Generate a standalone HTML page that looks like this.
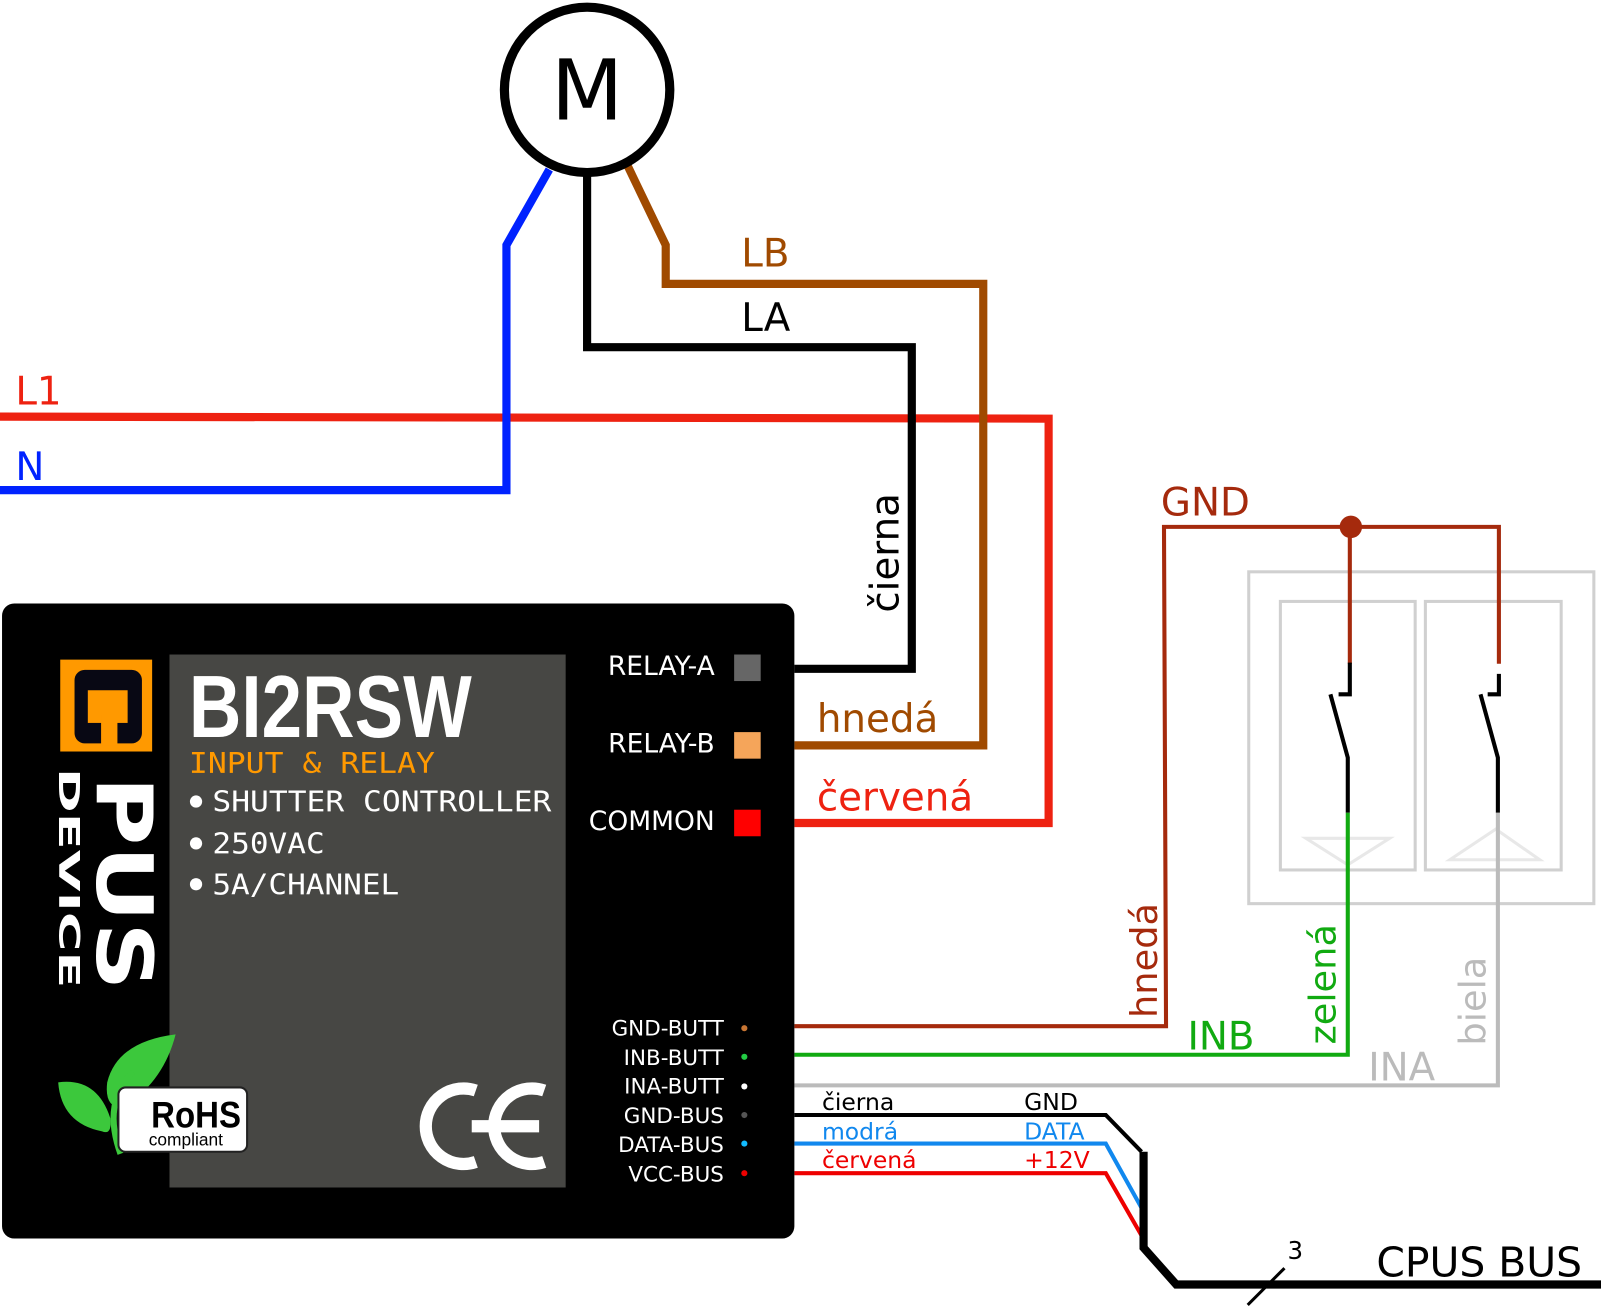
<!DOCTYPE html>
<html><head><meta charset="utf-8"><style>html,body{margin:0;padding:0;background:#fff}svg{display:block}</style></head>
<body>
<svg width="1601" height="1308" viewBox="0 0 1568 1281" xmlns="http://www.w3.org/2000/svg" font-family="'DejaVu Sans', 'Liberation Sans', sans-serif">
<polyline points="0,408 1027,410 1027,806 778,806" fill="none" stroke="#ee2211" stroke-width="8"/>
<polyline points="538,166 496,240 496,480 0,480" fill="none" stroke="#0022ff" stroke-width="8"/>
<polyline points="575,170 575,340 893,340 893,655 778,655" fill="none" stroke="#000" stroke-width="8"/>
<polyline points="615,163 652,240 652,278 963,278 963,730 778,730" fill="none" stroke="#a04a00" stroke-width="8"/>
<circle cx="575" cy="88" r="81" fill="#fff" stroke="#000" stroke-width="9"/>
<text x="575" y="117" font-size="82" text-anchor="middle">M</text>
<text x="15" y="396" font-size="38" fill="#ee2211">L1</text>
<text x="15" y="470" font-size="38" fill="#0022ff">N</text>
<text x="726" y="261" font-size="38" fill="#a04a00">LB</text>
<text x="726" y="324" font-size="38" fill="#000">LA</text>
<text transform="translate(880,600) rotate(-90)" font-size="38" fill="#000">čierna</text>
<text x="800" y="717" font-size="38" fill="#a04a00">hnedá</text>
<text x="800" y="794" font-size="38" fill="#ee2211">červená</text>

<rect x="1223" y="560" width="338" height="325" fill="none" stroke="#d0d0d0" stroke-width="3"/>
<rect x="1254" y="589" width="132" height="263" fill="none" stroke="#d0d0d0" stroke-width="3"/>
<rect x="1396" y="589" width="133" height="263" fill="none" stroke="#d0d0d0" stroke-width="3"/>
<polygon points="1279,821 1361,821 1320,847" fill="none" stroke="#e8e8e8" stroke-width="3"/>
<polygon points="1420,842 1508,842 1465,812" fill="none" stroke="#e8e8e8" stroke-width="3"/>

<polyline points="778,1005 1142,1005 1140,516 1468,516 1468,650" fill="none" stroke="#a52a0d" stroke-width="4"/>
<line x1="1322" y1="516" x2="1322" y2="650" stroke="#a52a0d" stroke-width="4"/>
<circle cx="1323" cy="516" r="11" fill="#a52a0d"/>
<path d="M1322,649 V680 H1311 M1303,680 L1320,742 V796 M1468,660 V680 H1457 M1450,680 L1467,742 V796" fill="none" stroke="#000" stroke-width="4"/>
<polyline points="778,1033 1320,1033 1320,796" fill="none" stroke="#11aa11" stroke-width="4"/>
<polyline points="778,1063 1467,1063 1467,796" fill="none" stroke="#bbbbbb" stroke-width="4"/>
<text x="1137" y="505" font-size="38" fill="#a52a0d">GND</text>
<text transform="translate(1133,997) rotate(-90)" font-size="36" fill="#a52a0d">hnedá</text>
<text transform="translate(1308,1023) rotate(-90)" font-size="36" fill="#11aa11">zelená</text>
<text transform="translate(1455,1024) rotate(-90)" font-size="36" fill="#bbbbbb">biela</text>
<text x="1163" y="1028" font-size="38" fill="#11aa11">INB</text>
<text x="1340" y="1058" font-size="38" fill="#bbbbbb">INA</text>

<polyline points="778,1149 1083,1149 1118,1210" fill="none" stroke="#ee0000" stroke-width="4"/>
<polyline points="778,1120 1083,1120 1118,1183" fill="none" stroke="#1188ee" stroke-width="4"/>
<polyline points="778,1092 1083,1092 1118,1128" fill="none" stroke="#000" stroke-width="4"/>
<polyline points="1120,1128 1120,1222 1152,1258 1568,1258" fill="none" stroke="#000" stroke-width="8"/>
<line x1="1222" y1="1278" x2="1258" y2="1242" stroke="#000" stroke-width="3"/>
<text x="1261" y="1233" font-size="24">3</text>
<text x="1348" y="1250" font-size="40">CPUS BUS</text>
<g font-size="23">
<text x="805" y="1087" fill="#000">čierna</text><text x="1003" y="1087" fill="#000">GND</text>
<text x="805" y="1116" fill="#1188ee">modrá</text><text x="1003" y="1116" fill="#1188ee">DATA</text>
<text x="805" y="1144" fill="#ee0000">červená</text><text x="1003" y="1144" fill="#ee0000">+12V</text>
</g>

<rect x="2" y="591" width="776" height="622" rx="12" fill="#000"/>
<rect x="166" y="641" width="388" height="522" fill="#474744"/>
<rect x="59" y="646" width="90" height="90" fill="#ff9900"/>
<rect x="73" y="656" width="66" height="72" rx="10" fill="#080814"/>
<rect x="86" y="676" width="39" height="32" fill="#ff9900"/>
<rect x="99" y="700" width="16" height="30" fill="#ff9900"/>
<text transform="translate(95,760) rotate(90)" font-size="76" font-weight="bold" fill="#fff" font-family="'DejaVu Sans',sans-serif" textLength="210" lengthAdjust="spacingAndGlyphs">PUS</text>
<text transform="translate(58,752) rotate(90)" font-size="28" font-weight="bold" fill="#fff" textLength="216" lengthAdjust="spacingAndGlyphs">DEVICE</text>
<text x="185" y="722" font-size="86" font-weight="bold" fill="#fff" font-family="'Liberation Sans Narrow','Liberation Sans',sans-serif" textLength="277" lengthAdjust="spacingAndGlyphs">BI2RSW</text>
<text x="185" y="757" font-size="28" fill="#ff9900" font-family="'DejaVu Sans Mono',monospace" textLength="241" lengthAdjust="spacingAndGlyphs">INPUT &amp; RELAY</text>
<g fill="#fff" font-size="28" font-family="'DejaVu Sans Mono',monospace">
<circle cx="192" cy="785" r="6"/><text x="208" y="795" textLength="332" lengthAdjust="spacingAndGlyphs">SHUTTER CONTROLLER</text>
<circle cx="192" cy="826" r="6"/><text x="208" y="836" textLength="110" lengthAdjust="spacingAndGlyphs">250VAC</text>
<circle cx="192" cy="866" r="6"/><text x="208" y="876" textLength="183" lengthAdjust="spacingAndGlyphs">5A/CHANNEL</text>
</g>
<g fill="#fff" font-size="26" text-anchor="end">
<text x="700" y="661">RELAY-A</text><text x="700" y="737">RELAY-B</text><text x="700" y="813">COMMON</text>
</g>
<rect x="719" y="641" width="26" height="26" fill="#666"/>
<rect x="719" y="717" width="26" height="26" fill="#f5a55a"/>
<rect x="719" y="793" width="26" height="26" fill="#ff0000"/>
<g fill="#fff" font-size="21" text-anchor="end">
<text x="709" y="1014">GND-BUTT</text><text x="709" y="1043">INB-BUTT</text><text x="709" y="1071">INA-BUTT</text>
<text x="709" y="1100">GND-BUS</text><text x="709" y="1128">DATA-BUS</text><text x="709" y="1157">VCC-BUS</text>
</g>
<circle cx="729" cy="1007" r="3" fill="#c87533"/><circle cx="729" cy="1035" r="3" fill="#22cc44"/>
<circle cx="729" cy="1064" r="3" fill="#fff"/><circle cx="729" cy="1092" r="3" fill="#555"/>
<circle cx="729" cy="1120" r="3" fill="#11bbff"/><circle cx="729" cy="1149" r="3" fill="#ee0000"/>
<path d="M466,1068 A37,37 0 1 0 466,1138" fill="none" stroke="#fff" stroke-width="12"/>
<path d="M533,1068 A37,37 0 1 0 533,1138 M462,1103 H528" fill="none" stroke="#fff" stroke-width="12"/>
<path d="M57,1060 Q95,1055 108,1095 Q110,1112 100,1108 Q60,1100 57,1060 Z" fill="#3cc83c"/>
<path d="M172,1013 Q115,1020 105,1060 Q102,1085 120,1085 Q160,1060 172,1013 Z" fill="#3cc83c"/>
<path d="M118,1130 Q100,1080 130,1050" fill="none" stroke="#3cc83c" stroke-width="6"/>
<rect x="116" y="1065" width="126" height="63" rx="7" fill="#fff" stroke="#222" stroke-width="2"/>
<text x="192" y="1104" font-size="36" font-weight="bold" text-anchor="middle" fill="#000" font-family="'Liberation Sans Narrow','Liberation Sans',sans-serif" textLength="88" lengthAdjust="spacingAndGlyphs">RoHS</text>
<text x="182" y="1122" font-size="17" text-anchor="middle" fill="#000" font-family="'Liberation Sans',sans-serif">compliant</text>
</svg>
</body></html>
